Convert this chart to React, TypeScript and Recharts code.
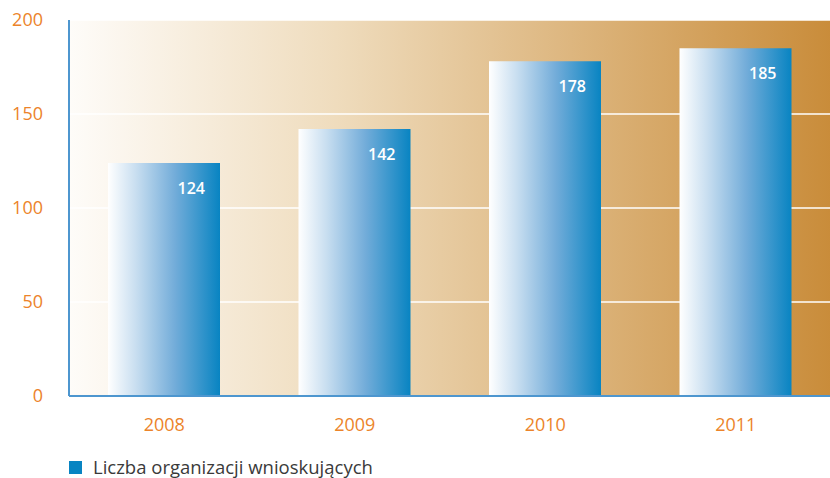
import { BarChart, Bar, XAxis, YAxis, CartesianGrid, LabelList } from "recharts";

const years = ["2008", "2009", "2010", "2011"];
const applicants = [124, 142, 178, 185];
const yTicks = [0, 50, 100, 150, 200];
const seriesName = "Liczba organizacji wnioskujących";

const data = years.map((year, i) => ({ year, value: applicants[i] }));

const ORANGE = "#ec842a";
const AXIS_BLUE = "#4d96cf";
const FONT = "'Open Sans', 'Noto Sans', sans-serif";

function ValueLabel(props: any) {
  const { x, y, width, value } = props;
  return (
    <text
      x={x + width - 15}
      y={y + 31}
      textAnchor="end"
      fill="#ffffff"
      fontFamily={FONT}
      fontWeight={600}
      fontSize={16}
    >
      {value}
    </text>
  );
}

export default function App() {
  return (
    <div style={{ position: "absolute", left: 0, top: 0, width: 830, height: 478, overflow: "hidden", background: "#fff" }}>
      <BarChart
        width={831}
        height={478}
        data={data}
        margin={{ top: 20, right: 0, bottom: 32, left: 0 }}
        barSize={112}
      >
        <defs>
          <linearGradient id="bgGrad" x1="0" y1="0" x2="1" y2="0">
            <stop offset="0%" stopColor="#fefcf9" />
            <stop offset="35%" stopColor="#efdcbd" />
            <stop offset="100%" stopColor="#c98c3a" />
          </linearGradient>
          <linearGradient id="barGrad" x1="0" y1="0" x2="1" y2="0">
            <stop offset="0%" stopColor="#ffffff" />
            <stop offset="25%" stopColor="#c8def0" />
            <stop offset="60%" stopColor="#72acd9" />
            <stop offset="100%" stopColor="#0884c2" />
          </linearGradient>
        </defs>
        <CartesianGrid
          vertical={false}
          fill="url(#bgGrad)"
          fillOpacity={1}
          stroke="#ffffff"
          strokeWidth={1.5}
          strokeDasharray=""
        />
        <XAxis
          dataKey="year"
          axisLine={{ stroke: AXIS_BLUE, strokeWidth: 2 }}
          tickLine={false}
          tickSize={0}
          tickMargin={22}
          height={50}
          tick={{ fill: ORANGE, fontSize: 18, fontFamily: FONT }}
        />
        <YAxis
          domain={[0, 200]}
          ticks={yTicks}
          axisLine={{ stroke: AXIS_BLUE, strokeWidth: 2 }}
          tickLine={false}
          tickSize={0}
          tickMargin={26}
          width={69}
          tick={{ fill: ORANGE, fontSize: 18, fontFamily: FONT }}
        />
        <Bar dataKey="value" fill="url(#barGrad)" isAnimationActive={false}>
          <LabelList dataKey="value" content={<ValueLabel />} />
        </Bar>
      </BarChart>
      <div
        style={{
          position: "absolute",
          left: 69,
          top: 456,
          display: "flex",
          alignItems: "center",
          fontFamily: FONT,
          fontSize: 18.5,
          lineHeight: "22px",
          color: "#3a3a3a",
        }}
      >
        <span style={{ display: "inline-block", width: 13, height: 13, background: "#0884c2", marginRight: 11 }} />
        {seriesName}
      </div>
    </div>
  );
}
